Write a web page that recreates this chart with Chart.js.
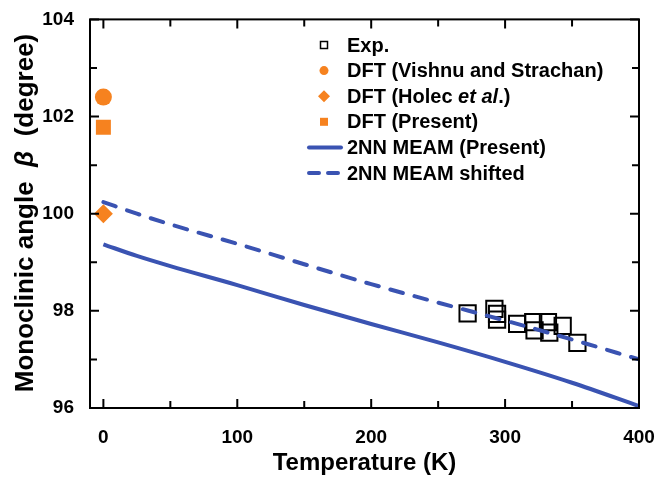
<!DOCTYPE html>
<html>
<head>
<meta charset="utf-8">
<script src="https://cdn.jsdelivr.net/npm/chart.js@4.4.0/dist/chart.umd.min.js"></script>
<style>
  html, body { margin: 0; padding: 0; background: #fff; }
  #wrap { width: 669px; height: 479px; }
</style>
</head>
<body>
<div id="wrap"><canvas id="chart_0" width="669" height="479"></canvas></div>
<script>
"use strict";

// data
const expT     = [272, 292, 294, 294, 309, 321, 322, 332, 333, 343, 354];
const expAngle = [97.95, 98.04, 97.94, 97.82, 97.73, 97.77, 97.60, 97.77, 97.55, 97.69, 97.34];

const vishnuT = [0], vishnuAngle = [102.4];
const holecT = [0], holecAngle = [100.0];
const dftT = [0], dftAngle = [101.78];

const meamT       = [0, 25, 50, 100, 150, 200, 250, 300, 350, 400];
const meamAngle   = [99.37, 99.13, 98.92, 98.53, 98.12, 97.73, 97.35, 96.95, 96.52, 96.04];
const shiftAngle  = [100.24, 100.0, 99.78, 99.38, 98.96, 98.55, 98.17, 97.80, 97.41, 97.00];

const xTicks = [0, 100, 200, 300, 400], xMinor = [50, 150, 250, 350];
const yTicks = [96, 98, 100, 102, 104], yMinor = [97, 99, 101, 103];

const ORANGE = '#f6821f', BLUE = '#3a53b2';
const FONT = '"Liberation Sans", Arial, sans-serif';

const pts = (xs, ys) => xs.map((x, i) => ({ x: x, y: ys[i] }));

// ticks pointing inward on all four sides + frame
const frame = {
  id: 'frame',
  afterDraw(chart) {
    const ctx = chart.ctx, a = chart.chartArea;
    const sx = chart.scales.x, sy = chart.scales.y;
    ctx.save();
    ctx.strokeStyle = '#000';
    ctx.lineWidth = 2;
    ctx.strokeRect(a.left, a.top, a.right - a.left, a.bottom - a.top);
    const tick = (vals, len) => {
      vals.forEach(v => {
        const px = sx.getPixelForValue(v);
        ctx.beginPath();
        ctx.moveTo(px, a.bottom); ctx.lineTo(px, a.bottom - len);
        ctx.moveTo(px, a.top); ctx.lineTo(px, a.top + len);
        ctx.stroke();
      });
    };
    const tickY = (vals, len) => {
      vals.forEach(v => {
        const py = sy.getPixelForValue(v);
        ctx.beginPath();
        ctx.moveTo(a.left, py); ctx.lineTo(a.left + len, py);
        ctx.moveTo(a.right, py); ctx.lineTo(a.right - len, py);
        ctx.stroke();
      });
    };
    tick(xTicks, 9); tick(xMinor, 7);
    tickY(yTicks, 9); tickY(yMinor, 7);
    ctx.restore();
  }
};

// y title with italic beta
const yTitle = {
  id: 'yTitle',
  afterDraw(chart) {
    const ctx = chart.ctx;
    const parts = [
      ['Monoclinic angle  ', 'bold 26px ' + FONT],
      ['\u03b2', 'italic bold 26px ' + FONT],
      ['  (degree)', 'bold 26px ' + FONT]
    ];
    ctx.save();
    ctx.translate(26, 213);
    ctx.rotate(-Math.PI / 2);
    ctx.fillStyle = '#000';
    ctx.textBaseline = 'middle';
    let total = 0;
    parts.forEach(p => { ctx.font = p[1]; total += ctx.measureText(p[0]).width; });
    let x = -total / 2;
    parts.forEach(p => { ctx.font = p[1]; ctx.fillText(p[0], x, 0); x += ctx.measureText(p[0]).width; });
    ctx.restore();
  }
};

// legend inside the plot
const legendBox = {
  id: 'legendBox',
  afterDraw(chart) {
    const ctx = chart.ctx;
    const mx = 324, tx = 347, y0 = 45, dy = 25.6;
    const rows = [
      { t: [['Exp.', '']], m: 'exp' },
      { t: [['DFT (Vishnu and Strachan)', '']], m: 'circle' },
      { t: [['DFT (Holec ', ''], ['et al', 'italic '], ['.)', '']], m: 'diamond' },
      { t: [['DFT (Present)', '']], m: 'square' },
      { t: [['2NN MEAM (Present)', '']], m: 'line' },
      { t: [['2NN MEAM shifted', '']], m: 'dash' }
    ];
    ctx.save();
    rows.forEach((r, i) => {
      const y = y0 + i * dy;
      ctx.beginPath();
      if (r.m === 'exp') {
        ctx.strokeStyle = '#000'; ctx.lineWidth = 1.5;
        ctx.strokeRect(mx - 3.5, y - 3.5, 7, 7);
      } else if (r.m === 'circle') {
        ctx.fillStyle = ORANGE; ctx.arc(mx, y, 4.5, 0, Math.PI * 2); ctx.fill();
      } else if (r.m === 'diamond') {
        ctx.fillStyle = ORANGE;
        ctx.moveTo(mx - 6, y); ctx.lineTo(mx, y - 6); ctx.lineTo(mx + 6, y); ctx.lineTo(mx, y + 6);
        ctx.closePath(); ctx.fill();
      } else if (r.m === 'square') {
        ctx.fillStyle = ORANGE; ctx.fillRect(mx - 4, y - 4, 8, 8);
      } else {
        ctx.strokeStyle = BLUE; ctx.lineWidth = 4; ctx.lineCap = 'round';
        ctx.setLineDash(r.m === 'dash' ? [10, 9] : []);
        ctx.moveTo(309, y); ctx.lineTo(341, y); ctx.stroke();
        ctx.setLineDash([]);
      }
      ctx.fillStyle = '#000';
      ctx.textBaseline = 'middle';
      let x = tx;
      r.t.forEach(p => {
        ctx.font = p[1] + 'bold 20px ' + FONT;
        ctx.fillText(p[0], x, y + 1);
        x += ctx.measureText(p[0]).width;
      });
    });
    ctx.restore();
  }
};

const ctx = document.getElementById('chart_0');
Chart.defaults.font.family = FONT;
Chart.defaults.color = '#000';

new Chart(ctx, {
  type: 'scatter',
  data: {
    datasets: [
      { label: 'Exp.', data: pts(expT, expAngle), pointStyle: 'rect', pointRadius: 11.5,
        backgroundColor: 'rgba(0,0,0,0)', borderColor: '#000', borderWidth: 2, order: 3 },
      { label: 'DFT (Vishnu and Strachan)', data: pts(vishnuT, vishnuAngle), pointStyle: 'circle',
        pointRadius: 8.5, backgroundColor: ORANGE, borderWidth: 0, order: 3 },
      { label: 'DFT (Holec et al.)', data: pts(holecT, holecAngle), pointStyle: 'rectRot',
        pointRadius: 9.5, backgroundColor: ORANGE, borderWidth: 0, order: 3 },
      { label: 'DFT (Present)', data: pts(dftT, dftAngle), pointStyle: 'rect',
        pointRadius: 10.6, backgroundColor: ORANGE, borderWidth: 0, order: 3 },
      { label: '2NN MEAM (Present)', data: pts(meamT, meamAngle), showLine: true, pointRadius: 0,
        borderColor: BLUE, borderWidth: 4, cubicInterpolationMode: 'monotone', order: 1 },
      { label: '2NN MEAM shifted', data: pts(meamT, shiftAngle), showLine: true, pointRadius: 0,
        borderColor: BLUE, borderWidth: 4, borderDash: [13, 12], borderCapStyle: 'round',
        cubicInterpolationMode: 'monotone', order: 1 }
    ]
  },
  options: {
    responsive: false,
    animation: false,
    devicePixelRatio: 1,
    layout: { padding: { top: 19, right: 30, left: 0, bottom: 0 } },
    plugins: { legend: { display: false }, tooltip: { enabled: false } },
    scales: {
      x: {
        type: 'linear', min: -10, max: 400,
        afterBuildTicks: s => { s.ticks = xTicks.map(v => ({ value: v })); },
        afterFit: s => { s.height = 71; },
        grid: { display: false }, border: { display: false },
        ticks: { font: { size: 19, weight: 'bold' }, padding: 10, maxRotation: 0 },
        title: { display: true, text: 'Temperature (K)', font: { size: 24, weight: 'bold', lineHeight: 1 },
                 padding: { top: 0, bottom: 4 } }
      },
      y: {
        type: 'linear', min: 96, max: 104,
        afterBuildTicks: s => { s.ticks = yTicks.map(v => ({ value: v })); },
        afterFit: s => { s.width = 90; },
        grid: { display: false }, border: { display: false },
        ticks: { font: { size: 19, weight: 'bold' }, padding: 8 }
      }
    }
  },
  plugins: [frame, yTitle, legendBox]
});
</script>
</body>
</html>
